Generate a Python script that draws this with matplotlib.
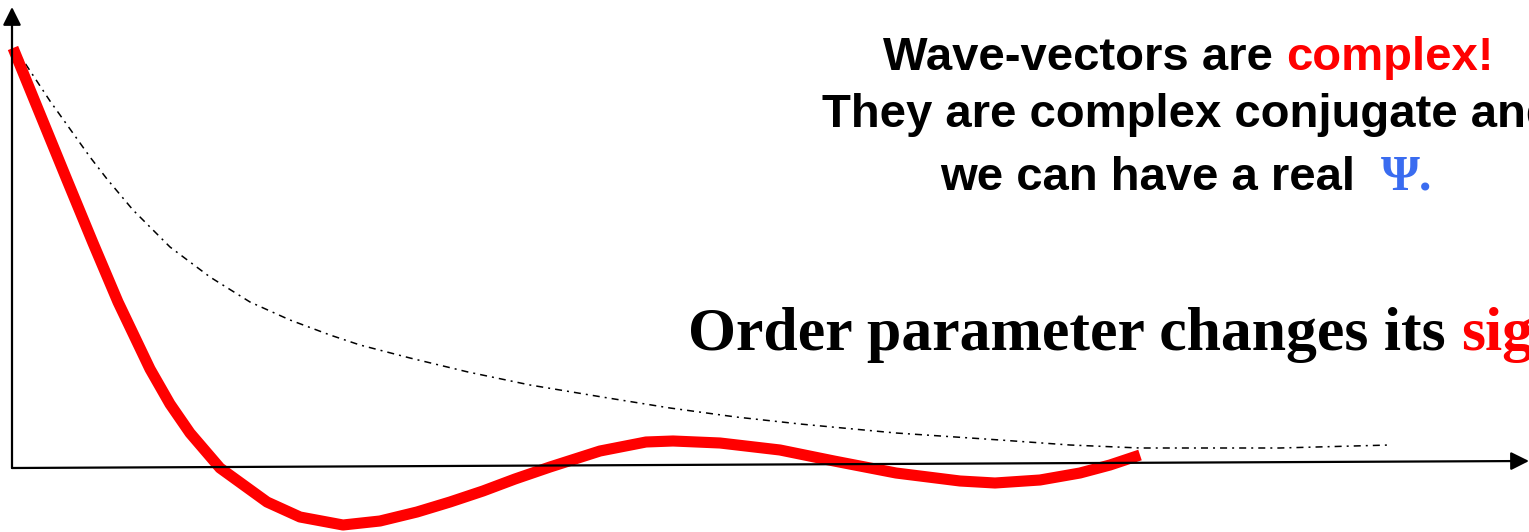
import numpy as np
from matplotlib import pyplot as plt

# picture pixels; axes corner at px (12, 467)
px_psi = [13, 40, 67, 93, 118, 150, 170, 190, 220, 267, 300, 343, 380, 417,
          450, 483, 515, 550, 600, 646, 673, 720, 780, 834, 896, 960, 995,
          1040, 1080, 1110, 1140]
py_psi = [48, 114, 180, 243, 302, 369, 404, 433, 468, 502, 517, 525, 521, 512,
          502, 491, 479, 467, 451, 442, 441, 443, 450, 461, 473, 481, 483,
          480, 473, 465, 455]

px_env = [15, 50, 90, 107, 133, 170, 210, 250, 290, 330, 360, 410, 468, 530,
          602, 670, 736, 800, 896, 1000, 1070, 1140, 1280, 1390]
py_env = [48, 101, 157, 179, 210, 247, 277, 302, 320, 335, 345, 358, 372, 385,
          397, 408, 417, 424, 433, 440, 445, 448, 448, 445]

x0, y0 = 12, 467
xs_psi = np.array(px_psi) - x0
ys_psi = y0 - np.array(py_psi)
xs_env = np.array(px_env) - x0
ys_env = y0 - np.array(py_env)

fig = plt.figure(figsize=(15.29, 5.32), dpi=100)
ax = fig.add_axes([0, 0, 1, 1])
ax.set_xlim(-x0, 1529 - x0)
ax.set_ylim(y0 - 532, y0)
ax.axis('off')

arrow = dict(arrowstyle='-|>,head_length=1.1,head_width=0.55',
             lw=1.6, color='black', shrinkA=0, shrinkB=0)
ax.annotate('', xy=(0, 460), xytext=(0, -1), arrowprops=arrow)
ax.annotate('', xy=(1517, 6), xytext=(0, -1), arrowprops=arrow)

ax.plot(xs_env, ys_env, color='black', lw=1.1, linestyle=(0, (4.6, 3.3, 1.3, 3.3)))
ax.plot(xs_psi, ys_psi, color='#ff0000', lw=8, solid_capstyle='butt',
        solid_joinstyle='round')

renderer = fig.canvas.get_renderer()

def pieces(x, y, parts):
    for s, color, family, size in parts:
        t = ax.text(x, y, s, color=color, family=family, fontsize=size,
                    fontweight='bold', ha='left', va='baseline')
        bb = t.get_window_extent(renderer=renderer)
        x += bb.width

sans = 'Liberation Sans'
serif = 'Liberation Serif'
pieces(871, 397, [('Wave-vectors are ', 'black', sans, 34),
                  ('complex!', '#ff0000', sans, 34)])
pieces(810, 340, [('They are complex conjugate and', 'black', sans, 34)])
pieces(928, 277, [('we can have a real  ', 'black', sans, 34),
                  ('Ψ.', '#3a6cf0', serif, 36)])
pieces(676, 117, [('Order parameter changes its ', 'black', serif, 44.5),
                  ('sign!', '#ff0000', serif, 44.5)])

fig.savefig('out.png', dpi=100)
